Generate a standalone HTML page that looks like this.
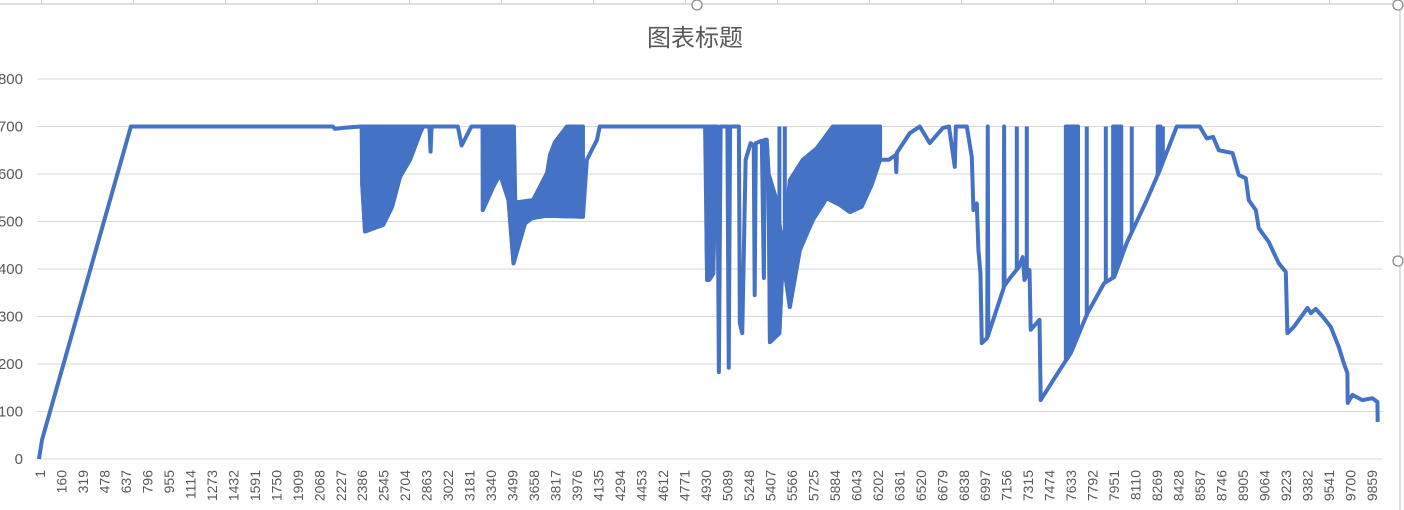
<!DOCTYPE html>
<html><head><meta charset="utf-8"><style>
body{margin:0;background:#fff;}
svg{display:block;font-family:"Liberation Sans","Noto Sans CJK SC",sans-serif;}
</style></head><body>
<svg id="chart" width="1404" height="510" viewBox="0 0 1404 510" xmlns="http://www.w3.org/2000/svg">
<g id="frame"></g>
<text x="695" y="46" text-anchor="middle" font-size="24" fill="#595959">图表标题</text>
<g id="grid"></g>
<g id="yaxis"></g>
<g id="xaxis"></g>
<g id="series"></g>
</svg>
<script>
const yTicks=[0,100,200,300,400,500,600,700,800];
const xLabels=[1,160,319,478,637,796,955,1114,1273,1432,1591,1750,1909,2068,2227,2386,2545,2704,2863,3022,3181,3340,3499,3658,3817,3976,4135,4294,4453,4612,4771,4930,5089,5248,5407,5566,5725,5884,6043,6202,6361,6520,6679,6838,6997,7156,7315,7474,7633,7792,7951,8110,8269,8428,8587,8746,8905,9064,9223,9382,9541,9700,9859];
const lineIdx=[0,22,680,2175,2190,2250,2380,2388,2392,2413,2547,2612,2672,2746,2820,2842,2890,2898,2906,3100,3128,3200,3283,3285,3360,3412,3475,3512,3597,3650,3750,4026,4055,4130,4150,4930,4945,4960,4990,5015,5020,5032,5045,5095,5105,5115,5180,5187,5205,5230,5267,5290,5297,5305,5350,5365,5373,5386,5400,5410,5480,5505,5557,5631,5727,5830,5927,6001,6088,6162,6225,6290,6340,6345,6350,6445,6519,6593,6690,6735,6778,6786,6867,6904,6916,6941,6953,6968,6978,7018,7022,7026,7030,7140,7143,7146,7192,7252,7281,7294,7331,7340,7405,7414,7540,7636,7760,7883,7957,8051,8199,8295,8421,8591,8643,8690,8732,8834,8880,8932,8954,9006,9028,9102,9139,9176,9228,9240,9287,9389,9413,9450,9509,9561,9620,9657,9684,9686,9721,9795,9869,9906,9908];
const lineVal=[0,40,700,700,695,697,700,700,580,479,493,530,594,630,686,700,700,647,700,700,660,700,700,524,572,600,545,412,496,507,512,510,630,672,700,700,377,377,390,700,700,183,700,700,192,700,700,286,265,630,665,660,345,665,670,381,672,672,592,246,265,425,320,440,503,549,535,520,531,577,630,630,640,604,645,686,700,665,697,700,615,700,700,636,524,538,440,391,244,255,700,260,265,360,700,365,383,404,425,377,398,272,293,124,181,223,307,370,383,455,545,608,700,700,675,678,650,644,598,591,545,524,486,457,434,412,394,265,278,318,307,316,297,278,236,202,181,118,135,124,128,120,78];
const bandStart=[2392,3285,4940,5386,7600,7950,8280];
const bandEnd=[2842,4026,5010,6225,7690,8010,8300];
const bandUpperIdx=[[2392,2842],[3285,3500,3515,3525,3656,3760,3782,3818,3907,4026],[4940,5010],[5386,5400,5459,5505,5557,5653,5756,5875,6225],[7600,7690],[7950,8010],[8280,8300]];
const bandUpperVal=[[700,700],[700,700,700,540,545,602,640,667,700,700],[700,700],[672,600,545,440,587,630,654,700,700],[700,700],[700,700],[700,700]];
const spikeIdx=[2440,2470,2500,2530,5055,5070,5480,5520,7311,7237,7755,7896,8088,8285,8318];
const spikeTop=[700,700,700,700,700,700,700,700,700,700,700,700,700,700,700];

const NS='http://www.w3.org/2000/svg';
const X0=39, XS=1343/9940, Y0=459, YS=0.475;
function xs(i){return X0+i*XS;}
function ys(v){return Y0-v*YS;}
function mk(tag,attrs,parent){const e=document.createElementNS(NS,tag);for(const k in attrs)e.setAttribute(k,attrs[k]);parent.appendChild(e);return e;}
function interp(i){for(let k=1;k<lineIdx.length;k++){if(lineIdx[k]>=i){const a=lineIdx[k-1],b=lineIdx[k];const t=b===a?0:(i-a)/(b-a);return lineVal[k-1]+t*(lineVal[k]-lineVal[k-1]);}}return lineVal[lineVal.length-1];}

const frame=document.getElementById('frame');
let hl=mk('line',{x1:0,y1:4,x2:1400,y2:4,stroke:'#bfbfbf','stroke-width':1},frame);

for(let x=41.5;x<1400;x+=92){const v=mk('line',{x1:x,y1:0,x2:x,y2:4,stroke:'#d0d0d0','stroke-width':1},frame);

}
let rb=mk('line',{x1:1400,y1:0,x2:1400,y2:510,stroke:'#bfbfbf','stroke-width':1},frame);

[[697,5],[1398,5],[1398,261]].forEach(p=>{const c=mk('circle',{cx:p[0],cy:p[1],r:5,fill:'#fff',stroke:'#8c8c8c','stroke-width':1.3},frame);

});

const grid=document.getElementById('grid'),yax=document.getElementById('yaxis'),xax=document.getElementById('xaxis');
yTicks.forEach(t=>{const l=mk('line',{x1:37,y1:ys(t),x2:1383,y2:ys(t),stroke:'#d9d9d9','stroke-width':1},grid);


const tx=mk('text',{x:23,y:ys(t)+5,'text-anchor':'end','font-size':15,fill:'#595959'},yax);tx.textContent=t;

});
xLabels.forEach(l=>{const x=xs(l-1)+1;const tx=mk('text',{x:0,y:0,transform:`translate(${x+5},470) rotate(-90)`,'text-anchor':'end','font-size':14,fill:'#595959'},xax);tx.textContent=l;

});

const ser=document.getElementById('series');
const C='#4472C4';
bandStart.forEach((s,b)=>{let pts=[];
for(let k=0;k<lineIdx.length;k++){if(lineIdx[k]>=s&&lineIdx[k]<=bandEnd[b])pts.push([xs(lineIdx[k]),ys(lineVal[k])]);}
pts.unshift([xs(s),ys(interp(s))]);pts.push([xs(bandEnd[b]),ys(interp(bandEnd[b]))]);
const ui=bandUpperIdx[b],uv=bandUpperVal[b];for(let k=ui.length-1;k>=0;k--)pts.push([xs(ui[k]),ys(uv[k])]);
const p=mk('polygon',{points:pts.map(q=>q.join(',')).join(' '),fill:C,stroke:C,'stroke-width':4,'stroke-linejoin':'round'},ser);

});
spikeIdx.forEach((s,k)=>{const l=mk('line',{x1:xs(s),y1:ys(interp(s)),x2:xs(s),y2:ys(spikeTop[k]),stroke:C,'stroke-width':4},ser);

});
const d=lineIdx.map((i,k)=>(k?'L':'M')+xs(i).toFixed(2)+','+ys(lineVal[k]).toFixed(2)).join(' ');
const path=mk('path',{d:d,fill:'none',stroke:C,'stroke-width':4,'stroke-linejoin':'round'},ser);


</script>
</body></html>
